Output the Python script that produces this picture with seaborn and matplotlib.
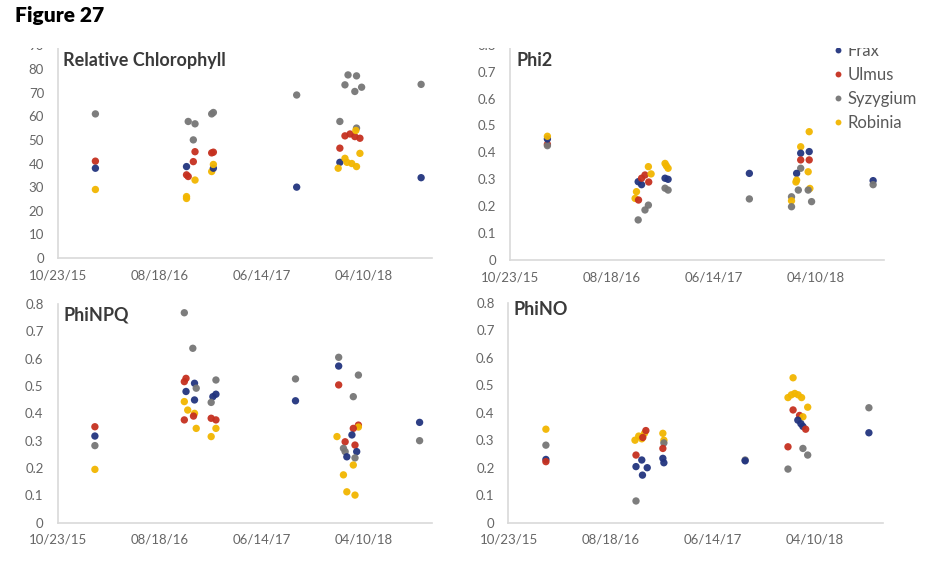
import matplotlib
matplotlib.use("Agg")
import matplotlib.pyplot as plt
import matplotlib.dates as mdates
from matplotlib.patches import Rectangle
from matplotlib.ticker import FuncFormatter, MultipleLocator
import pandas as pd
import seaborn as sns

# species / colours
F, U, S, R = "Frax", "Ulmus", "Syzygium", "Robinia"
species = [F, U, S, R]
colors = ["#22347f", "#c5301f", "#767676", "#f2b600"]
x_ticks = ["2015-10-23", "2016-08-18", "2017-06-14", "2018-04-10"]
x_start, x_end = "2015-10-23", "2018-10-27"

# Relative Chlorophyll
chl_date = ["2016-02-10", "2016-02-10", "2016-02-10", "2016-02-10",
            "2016-11-04", "2016-11-04", "2016-11-04", "2016-11-04", "2016-11-09", "2016-11-09",
            "2016-11-24", "2016-11-24", "2016-11-29", "2016-11-29", "2016-11-29",
            "2017-01-17", "2017-01-17", "2017-01-17", "2017-01-22", "2017-01-22", "2017-01-22", "2017-01-22",
            "2017-09-24", "2017-09-24",
            "2018-01-29", "2018-01-29", "2018-01-29", "2018-01-24", "2018-02-13", "2018-02-13",
            "2018-02-13", "2018-02-22", "2018-02-19", "2018-02-28", "2018-03-05", "2018-03-14",
            "2018-03-14", "2018-03-19", "2018-03-19", "2018-03-19", "2018-03-17", "2018-03-29",
            "2018-03-29", "2018-04-03",
            "2018-09-25", "2018-09-25"]
chl_species = [S, U, F, R,
               F, U, R, R, S, U,
               S, U, S, U, R,
               R, U, S, S, U, F, R,
               S, F,
               S, F, U, R, S, U,
               R, S, R, U, R, S,
               U, S, R, S, R, U,
               R, S,
               S, F]
chl_value = [61, 41, 38, 29,
             38.7, 35.2, 26, 25.2, 57.8, 34.5,
             50, 40.8, 56.8, 45, 33,
             36.6, 44.5, 61, 61.6, 44.8, 38, 39.6,
             69, 30,
             57.8, 40.5, 46.5, 38, 73.3, 51.7,
             42.2, 77.5, 40.5, 52.5, 40, 70.5,
             51.4, 77.1, 38.7, 55, 54, 50.7,
             44.3, 72.3,
             73.5, 34]

# Phi2
phi2_date = ["2016-02-10", "2016-02-10", "2016-02-10", "2016-02-10",
             "2016-11-03", "2016-11-03", "2016-10-29", "2016-10-25", "2016-11-04", "2016-11-13",
             "2016-11-13", "2016-11-23", "2016-11-23", "2016-12-03", "2016-12-03", "2016-12-11",
             "2016-12-04", "2017-01-21", "2017-01-25", "2017-01-30", "2017-01-21", "2017-01-30",
             "2017-01-21", "2017-01-30",
             "2017-09-26", "2017-09-26",
             "2018-03-21", "2018-02-24", "2018-02-24", "2018-03-21", "2018-02-24", "2018-03-21",
             "2018-02-24", "2018-03-18", "2018-02-12", "2018-02-12", "2018-02-10", "2018-02-17",
             "2018-03-23", "2018-03-18", "2018-01-28", "2018-01-28", "2018-01-28", "2018-03-28",
             "2018-09-25", "2018-09-25"]
phi2_species = [U, S, F, R,
                F, S, R, R, U, F,
                U, U, S, R, S, R,
                U, R, R, R, F, F,
                S, S,
                F, S,
                R, R, F, F, U, U,
                S, R, F, R, R, S,
                R, S, S, R, S, S,
                F, S]
phi2_value = [0.43, 0.425, 0.45, 0.46,
              0.291, 0.149, 0.254, 0.229, 0.223, 0.28,
              0.304, 0.316, 0.186, 0.347, 0.204, 0.32,
              0.29, 0.359, 0.35, 0.341, 0.304, 0.30,
              0.267, 0.26,
              0.322, 0.227,
              0.477, 0.421, 0.397, 0.403, 0.372, 0.372,
              0.341, 0.328, 0.322, 0.297, 0.29, 0.26,
              0.266, 0.26, 0.235, 0.22, 0.198, 0.217,
              0.295, 0.28]

# PhiNPQ
npq_date = ["2016-02-10", "2016-02-10", "2016-02-10", "2016-02-10",
            "2016-10-30", "2016-11-24", "2016-10-30", "2016-11-04", "2016-11-04", "2016-11-29",
            "2016-12-04", "2016-11-29", "2016-10-30", "2016-11-09", "2016-11-29", "2016-11-26",
            "2016-10-30", "2016-12-04", "2017-01-31", "2017-01-22", "2017-01-31", "2017-01-17",
            "2017-01-17", "2017-01-31", "2017-01-31", "2017-01-17",
            "2017-09-22", "2017-09-22",
            "2018-01-27", "2018-01-27", "2018-03-26", "2018-01-27", "2018-03-11", "2018-03-26",
            "2018-03-26", "2018-03-11", "2018-03-07", "2018-01-22", "2018-02-15", "2018-03-16",
            "2018-02-10", "2018-02-15", "2018-03-21", "2018-02-20", "2018-03-16", "2018-03-11",
            "2018-02-10", "2018-02-20", "2018-03-16",
            "2018-09-22", "2018-09-22"]
npq_species = [U, F, S, R,
               S, S, U, U, F, F,
               S, F, R, R, R, U,
               U, R, S, F, F, S,
               U, U, R, R,
               S, F,
               S, F, S, U, S, U,
               R, U, F, R, U, U,
               S, S, F, F, S, R,
               R, R, R,
               F, S]
npq_value = [0.351, 0.317, 0.282, 0.195,
             0.768, 0.638, 0.516, 0.528, 0.48, 0.51,
             0.492, 0.449, 0.443, 0.412, 0.40, 0.39,
             0.376, 0.345, 0.522, 0.461, 0.47, 0.44,
             0.382, 0.376, 0.345, 0.315,
             0.526, 0.446,
             0.605, 0.573, 0.54, 0.504, 0.461, 0.357,
             0.35, 0.345, 0.321, 0.315, 0.296, 0.284,
             0.272, 0.26, 0.26, 0.241, 0.237, 0.211,
             0.175, 0.113, 0.101,
             0.367, 0.30]

# PhiNO
no_date = ["2016-02-10", "2016-02-10", "2016-02-10", "2016-02-10",
           "2016-11-01", "2016-11-20", "2016-11-01", "2016-11-18", "2016-12-04", "2016-11-01",
           "2016-10-29", "2016-11-09", "2016-11-18", "2016-11-26", "2016-11-21", "2016-11-30",
           "2017-01-19", "2017-01-22", "2017-01-22", "2017-01-19", "2017-01-19", "2017-01-22",
           "2017-09-18", "2017-09-18",
           "2018-02-06", "2018-01-22", "2018-02-01", "2018-02-11", "2018-02-21", "2018-03-03",
           "2018-03-21", "2018-02-06", "2018-02-25", "2018-03-07", "2018-02-20", "2018-03-01",
           "2018-03-07", "2018-03-15", "2018-01-22", "2018-03-07", "2018-03-21", "2018-01-22",
           "2018-09-17", "2018-09-17"]
no_species = [R, S, F, U,
              S, F, F, F, F, U,
              R, R, R, R, U, U,
              R, R, S, U, F, F,
              S, F,
              R, R, R, R, R, R,
              R, U, U, R, F, F,
              F, U, U, S, S, S,
              S, F]
no_value = [0.34, 0.282, 0.23, 0.222,
            0.079, 0.173, 0.204, 0.228, 0.2, 0.246,
            0.30, 0.315, 0.305, 0.325, 0.31, 0.335,
            0.325, 0.30, 0.29, 0.27, 0.234, 0.218,
            0.228, 0.225,
            0.527, 0.455, 0.465, 0.47, 0.465, 0.455,
            0.42, 0.41, 0.39, 0.385, 0.373, 0.36,
            0.35, 0.34, 0.276, 0.27, 0.246, 0.195,
            0.418, 0.327]

sns.set_theme(style="white")
plt.rcParams["font.family"] = ["Lato", "DejaVu Sans"]

W, H = 931, 568
fig = plt.figure(figsize=(W / 100, H / 100), dpi=100)


def box(l, t, r, b):
    return [l / W, 1 - b / H, (r - l) / W, (b - t) / H]


panels = [
    ("Relative Chlorophyll", chl_date, chl_species, chl_value, box(58, 45.4, 432, 258), 90, 10, (0.013, 0.931)),
    ("Phi2", phi2_date, phi2_species, phi2_value, box(510, 44.8, 884, 260), 0.8, 0.1, (0.018, 0.929)),
    ("PhiNPQ", npq_date, npq_species, npq_value, box(57.5, 304, 431.5, 522.7), 0.8, 0.1, (0.015, 0.95)),
    ("PhiNO", no_date, no_species, no_value, box(508.5, 302.7, 882.5, 522.7), 0.8, 0.1, (0.013, 0.97)),
]

for i, (title, dates, sp, vals, pos, ymax, ystep, tpos) in enumerate(panels):
    ax = fig.add_axes(pos)
    df = pd.DataFrame({"date": pd.to_datetime(dates), "species": sp, "value": vals})
    sns.scatterplot(data=df, x="date", y="value", hue="species", hue_order=species,
                    palette=colors, s=28, linewidth=0, alpha=0.95, ax=ax, legend=(i == 1))
    ax.set_xlim(pd.Timestamp(x_start), pd.Timestamp(x_end))
    ax.set_xticks(pd.to_datetime(x_ticks))
    ax.xaxis.set_major_formatter(mdates.DateFormatter("%m/%d/%y"))
    ax.set_ylim(0, ymax)
    ax.yaxis.set_major_locator(MultipleLocator(ystep))
    ax.yaxis.set_major_formatter(FuncFormatter(lambda v, p: f"{v:g}"))
    ax.set_xlabel("")
    ax.set_ylabel("")
    ax.tick_params(length=0, labelsize=9.5, colors="#666666")
    ax.tick_params(axis="x", pad=8)
    ax.tick_params(axis="y", pad=10)
    sns.despine(ax=ax)
    for side in ["left", "bottom"]:
        ax.spines[side].set_color("#d9d9d9")
        ax.spines[side].set_linewidth(1.2)
    ax.text(tpos[0], tpos[1], title, transform=ax.transAxes, ha="left", va="center",
            fontsize=13, fontweight="bold", color="#3a3a3a")
    if i == 1:
        handles, labels = ax.get_legend_handles_labels()
        ax.legend(handles, labels, loc="upper left", bbox_to_anchor=(831 / W, 1 - 43 / H),
                  bbox_transform=fig.transFigure, frameon=False, fontsize=12,
                  handletextpad=0.2, labelspacing=0.48, handlelength=0.8,
                  borderpad=0, borderaxespad=0, markerscale=0.8, labelcolor="#595959")

# the scan cuts off the top strip of the upper panels
fig.add_artist(Rectangle((0, 1 - 48 / H), 1, 21 / H, transform=fig.transFigure,
                         facecolor="white", edgecolor="none", zorder=10))

fig.text(15 / W, 1 - 22 / H, "Figure 27", ha="left", va="baseline",
         fontsize=15, fontweight="heavy", color="black")

fig.savefig("out.png", dpi=100)
